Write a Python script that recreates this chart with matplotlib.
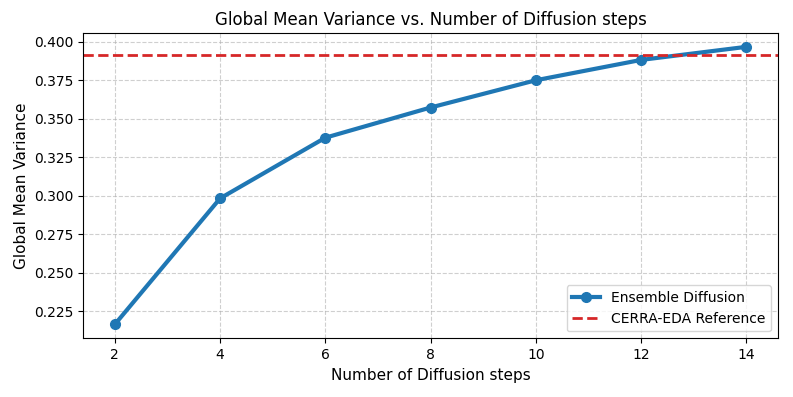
import matplotlib.pyplot as plt

# Data
steps = [2, 4, 6, 8, 10, 12, 14]
variance = [0.2165, 0.2983, 0.3377, 0.3573, 0.3750, 0.3882, 0.3967]
cerra_ref = 0.3915

fig, ax = plt.subplots(figsize=(7.93, 3.97), dpi=100)

ax.plot(steps, variance, marker='o', color='#1f77b4', linewidth=3,
        markersize=7, label='Ensemble Diffusion')
ax.axhline(cerra_ref, color='#d62728', linestyle='--', linewidth=2,
           label='CERRA-EDA Reference')

ax.set_xticks(steps)
ax.set_xlabel('Number of Diffusion steps', fontsize=11)
ax.set_ylabel('Global Mean Variance', fontsize=11)
ax.set_title('Global Mean Variance vs. Number of Diffusion steps', fontsize=12)
ax.grid(True, linestyle='--', alpha=0.6)
ax.legend(loc='lower right', fontsize=10)

fig.subplots_adjust(left=0.105, right=0.981, top=0.917, bottom=0.148)
fig.savefig('out.png')
